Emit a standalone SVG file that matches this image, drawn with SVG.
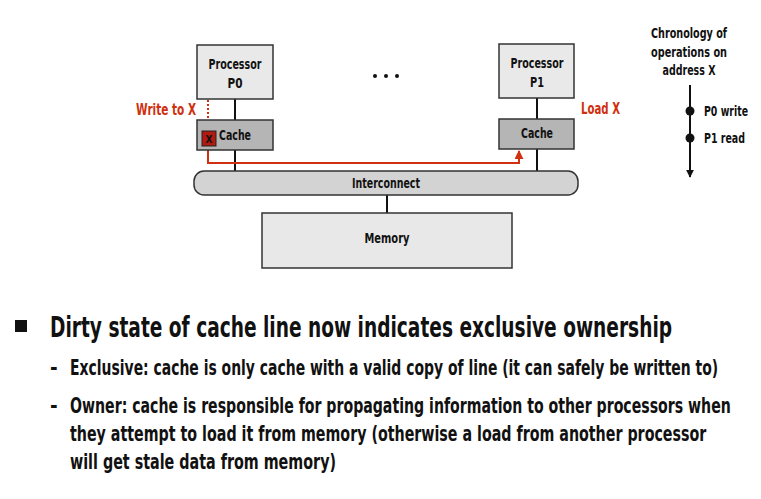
<svg xmlns="http://www.w3.org/2000/svg" width="761" height="499" viewBox="0 0 761 499">
<style>
text{font-family:"DejaVu Sans Condensed","Liberation Sans",sans-serif;font-weight:bold;fill:#111}
.lbl{font-size:13.5px}
.red{fill:#d0300f;font-size:15.5px}
.box{stroke:#333;stroke-width:1.5}
.proc{fill:#e9e9e9}
.cache{fill:#b5b5b5}
.wire{stroke:#111;stroke-width:2;fill:none}
.rw{stroke:#d0300f;stroke-width:2;fill:none}
.big{font-size:29px}
.sub{font-size:20.5px}
</style>
<defs>
<marker id="ah" viewBox="0 0 10 10" refX="9" refY="5" markerWidth="4.5" markerHeight="4.5" orient="auto"><path d="M0,0 L10,5 L0,10 z" fill="#d0300f"/></marker>
<marker id="ahk" viewBox="0 0 10 10" refX="9" refY="5" markerWidth="4" markerHeight="4" orient="auto"><path d="M0,0 L10,5 L0,10 z" fill="#111"/></marker>
</defs>
<g id="connectors">
<line class="wire" x1="235" y1="99" x2="235" y2="120"/>
<line class="wire" x1="235" y1="150" x2="235" y2="171"/>
<line class="wire" x1="537" y1="98" x2="537" y2="119"/>
<line class="wire" x1="537" y1="149" x2="537" y2="171"/>
<line class="wire" x1="387" y1="195" x2="387" y2="213"/>
<line x1="208" y1="92" x2="208" y2="124" stroke="#d0300f" stroke-width="2" stroke-dasharray="2,2"/>
<polygon points="204,123 212,123 208,130" fill="#d0300f"/>
<polyline class="rw" points="208,146 208,163 519,163 519,151" marker-end="url(#ah)"/>
</g>
<g id="p0">
<rect class="box proc" x="197" y="45" width="76" height="54"/>
<text class="lbl" x="235" y="69" text-anchor="middle" textLength="53" lengthAdjust="spacingAndGlyphs">Processor</text>
<text class="lbl" x="235" y="88" text-anchor="middle" textLength="15" lengthAdjust="spacingAndGlyphs">P0</text>
</g>
<g id="cache0">
<rect class="box cache" x="197" y="120" width="76" height="30"/>
<rect x="202" y="131" width="14" height="15" fill="#b01a10" stroke="#222" stroke-width="1"/>
<text x="209" y="143" font-size="11" text-anchor="middle" textLength="7" lengthAdjust="spacingAndGlyphs">X</text>
<text class="lbl" x="219" y="140" textLength="32" lengthAdjust="spacingAndGlyphs">Cache</text>
</g>
<g id="p1">
<rect class="box proc" x="499" y="44" width="75" height="54"/>
<text class="lbl" x="537" y="68" text-anchor="middle" textLength="53" lengthAdjust="spacingAndGlyphs">Processor</text>
<text class="lbl" x="537" y="87" text-anchor="middle" textLength="14" lengthAdjust="spacingAndGlyphs">P1</text>
</g>
<g id="cache1">
<rect class="box cache" x="499" y="119" width="75" height="30"/>
<text class="lbl" x="537" y="138" text-anchor="middle" textLength="32" lengthAdjust="spacingAndGlyphs">Cache</text>
</g>
<g id="dots">
<circle cx="375" cy="76" r="2" fill="#111"/>
<circle cx="386" cy="76" r="2" fill="#111"/>
<circle cx="397" cy="76" r="2" fill="#111"/>
</g>
<g id="interconnect">
<rect class="box" x="194" y="171" width="384" height="24" rx="10" fill="#d3d3d3"/>
<text class="lbl" x="386" y="188" text-anchor="middle" textLength="68" lengthAdjust="spacingAndGlyphs">Interconnect</text>
</g>
<g id="memory">
<rect class="box" x="262" y="213" width="250" height="55" fill="#e8e8e8"/>
<text class="lbl" x="387" y="243" text-anchor="middle" textLength="45" lengthAdjust="spacingAndGlyphs">Memory</text>
</g>
<text class="red" x="136" y="115" textLength="60" lengthAdjust="spacingAndGlyphs">Write to X</text>
<text class="red" x="581" y="114" textLength="39" lengthAdjust="spacingAndGlyphs">Load X</text>
<g id="chronology">
<text class="lbl" x="689" y="38" text-anchor="middle" textLength="76" lengthAdjust="spacingAndGlyphs">Chronology of</text>
<text class="lbl" x="689" y="57" text-anchor="middle" textLength="76" lengthAdjust="spacingAndGlyphs">operations on</text>
<text class="lbl" x="689" y="75" text-anchor="middle" textLength="53" lengthAdjust="spacingAndGlyphs">address X</text>
<line x1="690" y1="85" x2="690" y2="177" stroke="#111" stroke-width="2" marker-end="url(#ahk)"/>
<circle cx="690" cy="111" r="4.5" fill="#111"/>
<circle cx="690" cy="138" r="4.5" fill="#111"/>
<text class="lbl" x="704" y="116" textLength="44" lengthAdjust="spacingAndGlyphs">P0 write</text>
<text class="lbl" x="704" y="143" textLength="41" lengthAdjust="spacingAndGlyphs">P1 read</text>
</g>
<g id="bullets">
<rect x="15" y="320" width="12" height="12" fill="#111"/>
<text class="big" transform="translate(50,337) scale(0.65,1)" x="0" y="0" textLength="957" lengthAdjust="spacingAndGlyphs">Dirty state of cache line now indicates exclusive ownership</text>
<text class="sub" x="50" y="375">-</text>
<text class="sub" transform="translate(70,375) scale(0.7,1)" x="0" y="0" textLength="926" lengthAdjust="spacingAndGlyphs">Exclusive: cache is only cache with a valid copy of line (it can safely be written to)</text>
<text class="sub" x="50" y="413">-</text>
<text class="sub" transform="translate(70,413) scale(0.7,1)" x="0" y="0" textLength="944" lengthAdjust="spacingAndGlyphs">Owner: cache is responsible for propagating information to other processors when</text>
<text class="sub" transform="translate(70,441) scale(0.7,1)" x="0" y="0" textLength="909" lengthAdjust="spacingAndGlyphs">they attempt to load it from memory (otherwise a load from another processor</text>
<text class="sub" transform="translate(70,469) scale(0.7,1)" x="0" y="0" textLength="380" lengthAdjust="spacingAndGlyphs">will get stale data from memory)</text>
</g>
</svg>
